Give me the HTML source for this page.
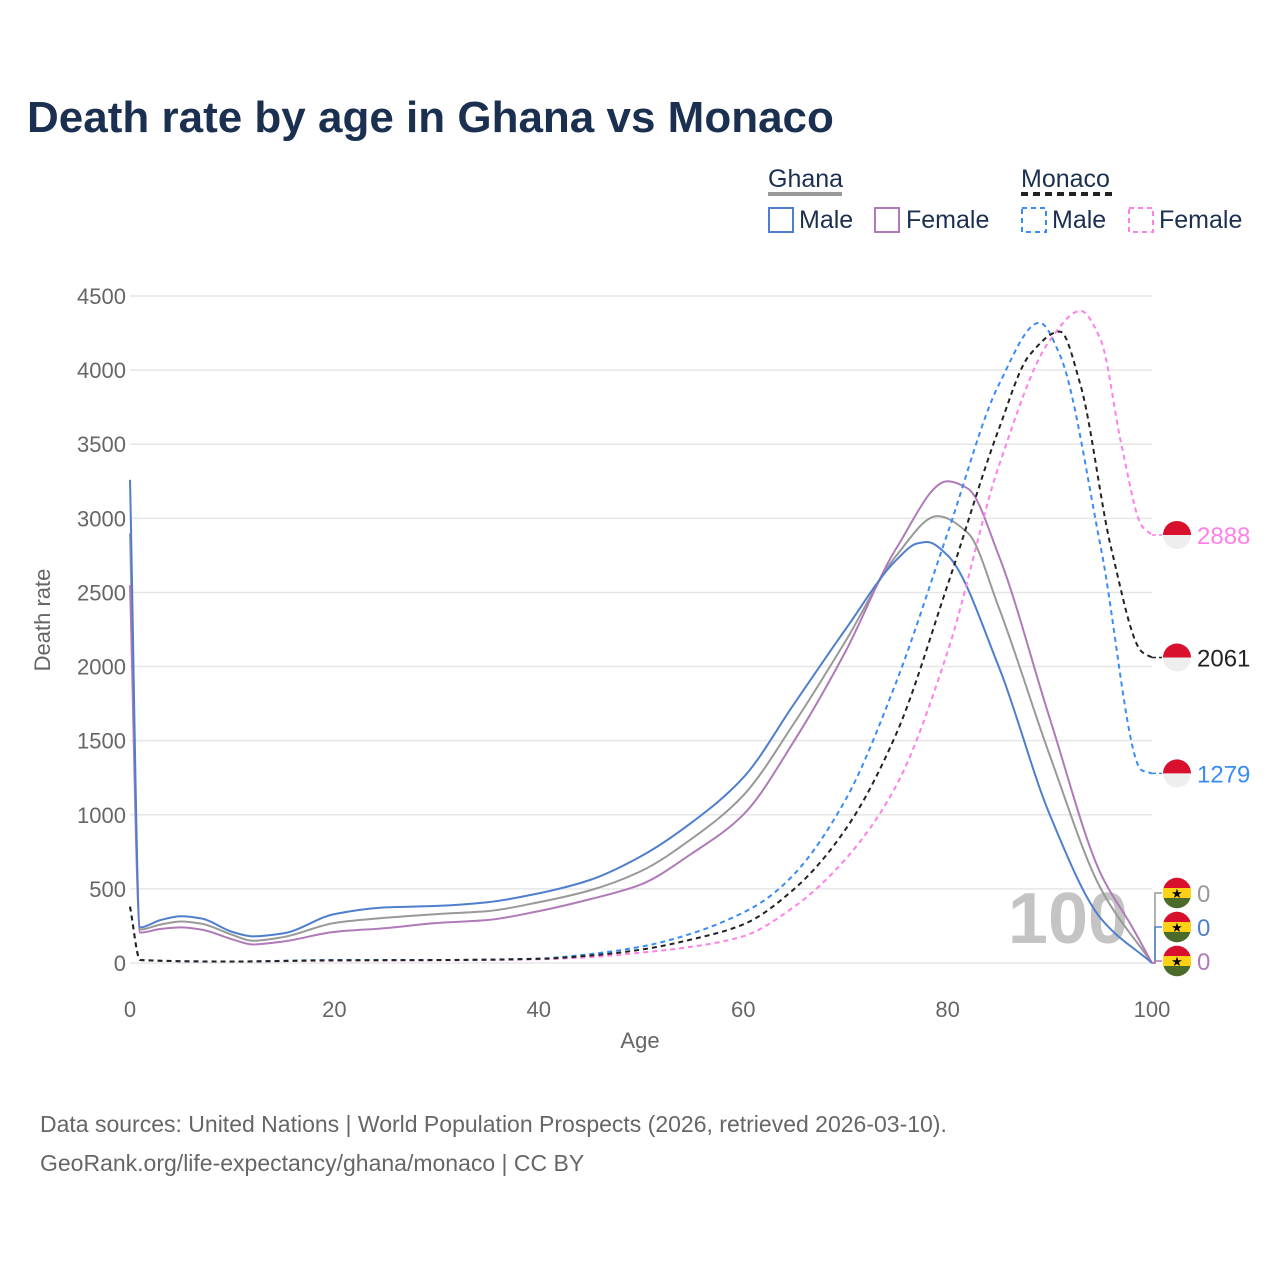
<!DOCTYPE html>
<html><head><meta charset="utf-8"><style>
body{margin:0;background:#fff;font-family:"Liberation Sans",sans-serif}
svg text{font-family:"Liberation Sans",sans-serif}
</style></head><body>
<svg width="1280" height="1280" viewBox="0 0 1280 1280">
<rect width="1280" height="1280" fill="#fff"/>
<text x="27" y="132" font-size="44" font-weight="bold" fill="#1b3050">Death rate by age in Ghana vs Monaco</text>
<g font-size="25" fill="#1b3050">
<text x="768" y="187">Ghana</text>
<rect x="768" y="192" width="74" height="4" fill="#999"/>
<text x="1021" y="187">Monaco</text>
<line x1="1021" y1="194" x2="1113" y2="194" stroke="#222" stroke-width="4" stroke-dasharray="7,5"/>
<g><rect x="769" y="208" width="24" height="24" fill="none" stroke="#4f7fcc" stroke-width="2"/><text x="799" y="228">Male</text></g>
<g><rect x="875" y="208" width="24" height="24" fill="none" stroke="#b07ab8" stroke-width="2"/><text x="906" y="228">Female</text></g>
<g><rect x="1022" y="208" width="24" height="24" fill="none" stroke="#3a8cf5" stroke-width="2" stroke-dasharray="5,4"/><text x="1052" y="228">Male</text></g>
<g><rect x="1129" y="208" width="24" height="24" fill="none" stroke="#ff80e6" stroke-width="2" stroke-dasharray="5,4"/><text x="1159" y="228">Female</text></g>
</g>
<g id="grid"></g>
<text x="1068" y="943" font-size="72" font-weight="bold" fill="#c4c4c4" text-anchor="middle">100</text>
<g id="axes" font-size="22" fill="#666"></g>
<text x="640" y="1048" font-size="22" fill="#666" text-anchor="middle">Age</text>
<text transform="translate(50,620) rotate(-90)" font-size="22" fill="#666" text-anchor="middle">Death rate</text>
<g id="series"></g>
<g id="labels"></g>
<text x="40" y="1132" font-size="23" fill="#666">Data sources: United Nations | World Population Prospects (2026, retrieved 2026-03-10).</text>
<text x="40" y="1171" font-size="23" fill="#666">GeoRank.org/life-expectancy/ghana/monaco | CC BY</text>
</svg>
<script>
const xTicks=[0,20,40,60,80,100];
const yTicks=[0,500,1000,1500,2000,2500,3000,3500,4000,4500];
const ghMaleAges=[0,1,3,5,7,10,12,15,20,25,30,35,40,45,50,55,60,65,70,75,77,78,80,85,90,95,100];
const ghMaleVals=[3260,240,290,315,300,210,180,200,330,375,385,410,470,560,720,950,1250,1750,2250,2720,2830,2840,2750,2000,1000,300,0];
const ghAllAges=[0,1,3,5,7,10,12,15,20,25,30,35,40,45,50,55,60,65,70,75,79,82,85,90,95,100];
const ghAllVals=[2900,225,260,280,265,190,150,175,270,305,330,350,410,490,620,840,1130,1620,2170,2750,3015,2900,2400,1400,500,0];
const ghFemAges=[0,1,3,5,7,10,12,15,20,25,30,35,40,45,50,55,60,65,70,75,80,82,85,90,95,98,100];
const ghFemVals=[2550,205,230,240,225,160,125,145,210,235,270,290,350,430,530,740,1000,1500,2100,2800,3250,3200,2750,1650,600,250,0];
const moMaleAges=[0,1,10,20,30,40,45,50,55,60,62,65,70,75,80,85,89,91,95,99,100];
const moMaleVals=[380,20,10,20,20,30,60,110,200,340,420,600,1100,1900,2900,3900,4320,4100,2800,1300,1279];
const moAllAges=[0,1,10,20,30,40,45,50,55,60,65,70,75,80,85,88,91,93,96,99,100];
const moAllVals=[380,20,10,18,20,28,50,90,160,260,500,900,1550,2550,3600,4100,4260,3900,2800,2100,2061];
const moFemAges=[0,1,10,20,30,40,45,50,55,60,65,70,75,80,85,90,93,95,97,99,100];
const moFemVals=[380,20,10,16,18,25,40,70,110,180,380,700,1200,2100,3350,4200,4400,4200,3500,2950,2888];
const NS='http://www.w3.org/2000/svg';
const X=a=>130+a*10.22, Y=v=>963-v*0.14822;
function mk(t,attrs,parent){const e=document.createElementNS(NS,t);for(const k in attrs)e.setAttribute(k,attrs[k]);parent.appendChild(e);return e;}
const grid=document.getElementById('grid'),axes=document.getElementById('axes');
yTicks.forEach(v=>{
 const l=mk('line',{x1:130,x2:1152,y1:Y(v),y2:Y(v),stroke:'#e6e6e6','stroke-width':1.5},grid);
 
 
 const t=mk('text',{x:126,y:Y(v)+8,'text-anchor':'end'},axes);t.textContent=v;
 
 
});
xTicks.forEach(a=>{
 const t=mk('text',{x:X(a),y:1017,'text-anchor':'middle'},axes);t.textContent=a;
 
 
});
function path(ages,vals){
 const p=ages.map((a,i)=>[X(a),Y(vals[i])]);
 const n=p.length,d=[],m=new Array(n);
 for(let i=0;i<n-1;i++)d.push((p[i+1][1]-p[i][1])/(p[i+1][0]-p[i][0]));
 m[0]=d[0];m[n-1]=d[n-2];
 for(let i=1;i<n-1;i++){
  if(d[i-1]*d[i]<=0)m[i]=0;
  else{const h0=p[i][0]-p[i-1][0],h1=p[i+1][0]-p[i][0];const w1=2*h1+h0,w2=h1+2*h0;m[i]=(w1+w2)/(w1/d[i-1]+w2/d[i]);}
 }
 let s='M'+p[0][0]+','+p[0][1];
 for(let i=0;i<n-1;i++){
  const h=(p[i+1][0]-p[i][0])/3;
  s+=`C${p[i][0]+h},${p[i][1]+m[i]*h} ${p[i+1][0]-h},${p[i+1][1]-m[i+1]*h} ${p[i+1][0]},${p[i+1][1]}`;
 }
 return s;
}
const S=document.getElementById('series');
const defs=[
 [ghAllAges,ghAllVals,'#999',null,'line-ghana-total'],
 [ghFemAges,ghFemVals,'#b07ab8',null,'line-ghana-female'],
 [ghMaleAges,ghMaleVals,'#4f7fcc',null,'line-ghana-male'],
 [moFemAges,moFemVals,'#ff80e6','5,4','line-monaco-female'],
 [moMaleAges,moMaleVals,'#3a8cf5','5,4','line-monaco-male'],
 [moAllAges,moAllVals,'#222','5,4','line-monaco-total']
];
defs.forEach(([a,v,c,da,n])=>{
 const e=mk('path',{d:path(a,v),fill:'none',stroke:c,'stroke-width':2},S);
 if(da)e.setAttribute('stroke-dasharray',da);
 
 
});
const L=document.getElementById('labels');
function monacoFlag(cy){
 const g=mk('g',{},L);
 mk('circle',{cx:1177,cy:cy,r:14,fill:'#eee'},g);
 mk('path',{d:`M1163,${cy} A14,14 0 0 1 1191,${cy} Z`,fill:'#d9102d'},g);
 return g;
}
function ghanaFlag(cy){
 const g=mk('g',{},L);
 mk('path',{d:`M1163.5,${cy-5} A14,14 0 0 1 1190.5,${cy-5} Z`,fill:'#d9102d'},g);
 mk('rect',{x:1163,y:cy-5,width:28,height:10,fill:'#fcd116'},g);
 mk('path',{d:`M1163.5,${cy+5} A14,14 0 0 0 1190.5,${cy+5} Z`,fill:'#4a6b2a'},g);
 const t=mk('text',{x:1177,y:cy+5,'font-size':13,'text-anchor':'middle',fill:'#000'},g);t.textContent='★';
 return g;
}
const moEnd=[[moFemVals,'#ff80e6'],[moAllVals,'#222'],[moMaleVals,'#3a8cf5']];
moEnd.forEach(([v,c])=>{
 const last=v[v.length-1];
 mk('line',{x1:1152,y1:Y(last),x2:1162,y2:Y(last),stroke:c,'stroke-width':1.5,'stroke-dasharray':'4,3'},L);
 const g=monacoFlag(Y(last));
 
 
 const t=mk('text',{x:1197,y:Y(last)+9,'font-size':24,fill:c},L);t.textContent=last;
 
 
});
const ghEnd=[[ghAllVals,'#999',893],[ghMaleVals,'#4f7fcc',927],[ghFemVals,'#b07ab8',961]];
ghEnd.forEach(([v,c,cy])=>{
 const last=v[v.length-1];
 mk('polyline',{points:`1152,${Y(last)} 1155,${Y(last)} 1155,${cy} 1162,${cy}`,fill:'none',stroke:c,'stroke-width':1.5},L);
 const g=ghanaFlag(cy);
 
 
 const t=mk('text',{x:1197,y:cy+9,'font-size':24,fill:c},L);t.textContent=last;
 
 
});
</script>
</body></html>
